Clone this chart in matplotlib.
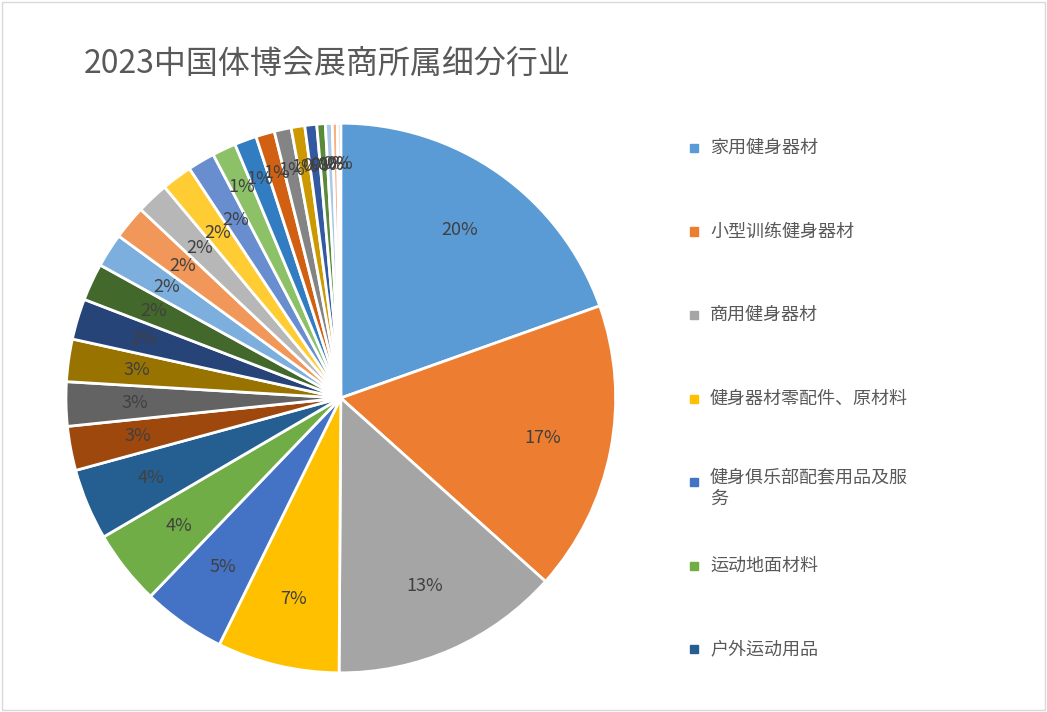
import numpy as np
import matplotlib.pyplot as plt
from matplotlib.patches import Rectangle

plt.rcParams['font.family'] = 'sans-serif'
plt.rcParams['font.sans-serif'] = ['Noto Sans CJK SC', 'Noto Sans CJK JP', 'DejaVu Sans']

categories = ['家用健身器材', '小型训练健身器材', '商用健身器材', '健身器材零配件、原材料',
              '健身俱乐部配套用品及服务', '运动地面材料', '户外运动用品',
              '其他1', '其他2', '其他3', '其他4', '其他5', '其他6', '其他7', '其他8',
              '其他9', '其他10', '其他11', '其他12', '其他13', '其他14', '其他15',
              '其他16', '其他17', '其他18', '其他19', '其他20']
legend_labels = ['家用健身器材', '小型训练健身器材', '商用健身器材', '健身器材零配件、原材料',
                 '健身俱乐部配套用品及服\n务', '运动地面材料', '户外运动用品']
values = [19.6, 17.1, 13.5, 7.2, 4.9, 4.4, 4.2, 2.6, 2.6, 2.5, 2.4, 2.2,
          2.0, 2.0, 1.9, 1.8, 1.6, 1.4, 1.3, 1.1, 1.0, 0.8, 0.7, 0.5, 0.4, 0.3, 0.2]
pct_labels = ['20%', '17%', '13%', '7%', '5%', '4%', '4%', '3%', '3%', '3%', '2%', '2%',
              '2%', '2%', '2%', '2%', '2%', '1%', '1%', '1%', '1%', '1%', '0%', '0%', '0%', '0%', '0%']
colors = ['#5B9BD5', '#ED7D31', '#A5A5A5', '#FFC000', '#4472C4', '#70AD47', '#255E91',
          '#9E480E', '#636363', '#997300', '#264478', '#43682B', '#7CAFDD', '#F1975A',
          '#B7B7B7', '#FFCD33', '#698ED0', '#8CC168', '#327DC2', '#D26012', '#848484',
          '#CC9A00', '#335AA1', '#5A8A39', '#A9C8E8', '#F4B183', '#C9C9C9']

fig = plt.figure(figsize=(10.47, 7.12), dpi=100)
fig.patches.append(Rectangle((0.002, 0.003), 0.996, 0.994, transform=fig.transFigure,
                             fill=False, edgecolor='#d9d9d9', linewidth=1))
ax = fig.add_axes([0.063, 0.055, 0.525, 0.772])
wedges, texts = ax.pie(values, colors=colors, startangle=90, counterclock=False,
                       wedgeprops=dict(edgecolor='white', linewidth=2))
total = sum(values)
cum = 0
for v, lab in zip(values, pct_labels):
    mid = 90 - (cum + v / 2) / total * 360
    cum += v
    r = 0.75 if v > 1.5 else 0.85
    ax.text(r * np.cos(np.radians(mid)), r * np.sin(np.radians(mid)), lab,
            ha='center', va='center', fontsize=13, color='#404040')
ax.set_xlim(-1.0, 1.0)
ax.set_ylim(-1.0, 1.0)
ax.set_aspect('equal')

fig.text(0.08, 0.91, '2023中国体博会展商所属细分行业', fontsize=23, color='#595959', va='center')

for i, lab in enumerate(legend_labels):
    y = 712 - (148 + i * 83.5)
    fig.patches.append(Rectangle((690 / 1047, (y - 4) / 712), 8 / 1047, 8 / 712,
                                 transform=fig.transFigure, color=colors[i]))
    if '\n' in lab:
        fig.text(710 / 1047, (y + 14) / 712, lab, fontsize=13, color='#595959',
                 va='top', linespacing=1.3)
    else:
        fig.text(710 / 1047, y / 712, lab, fontsize=13, color='#595959', va='center')

fig.savefig('out.png', dpi=100)
